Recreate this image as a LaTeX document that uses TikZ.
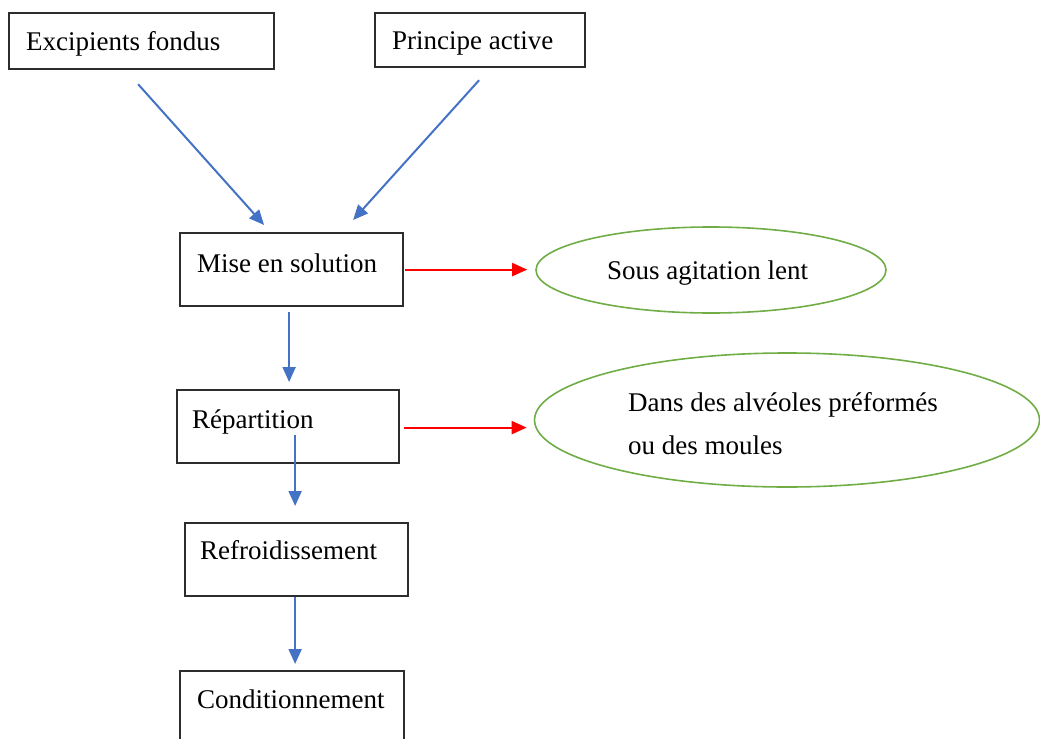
\documentclass[tikz,border=0pt]{standalone}
\usepackage{fontspec}
\setmainfont{Liberation Serif}
\usetikzlibrary{arrows.meta,calc,shapes.geometric}
\definecolor{flowblue}{RGB}{68,114,196}
\definecolor{flowred}{RGB}{255,0,0}
\definecolor{flowgreen}{RGB}{112,173,71}
\definecolor{boxline}{RGB}{45,45,45}
\tikzset{
  stepbox/.style={draw=boxline, line width=2.2pt, rectangle, inner sep=0pt, anchor=north west},
  label/.style={inner sep=0pt, anchor=base west, font=\fontsize{27}{43}\selectfont},
  note/.style={draw=flowgreen, line width=1.6pt, ellipse, inner sep=0pt},
  flow/.style={draw=flowblue, line width=2pt, -{Triangle[length=15pt,width=13pt]}},
  side/.style={draw=flowred, line width=2pt, -{Triangle[length=15pt,width=13pt]}},
}
\begin{document}
\begin{tikzpicture}[x=1pt,y=-1pt]
\useasboundingbox (0,0) rectangle (1040,738);
\begin{scope}
\clip (0,0) rectangle (1040,738);

% input boxes
\node[stepbox, minimum width=265pt, minimum height=56pt] (exc) at (8,12) {};
\node[label] (exct) at (26,51) {Excipients fondus};
\node[stepbox, minimum width=210pt, minimum height=54pt] (pa) at (374,12) {};
\node[label] (pat) at (392,50) {Principe active};

% process steps
\node[stepbox, minimum width=223pt, minimum height=73pt] (mise) at (179,232) {};
\node[label] (miset) at (197,272) {Mise en solution};
\node[stepbox, minimum width=222pt, minimum height=73pt] (rep) at (176,389) {};
\node[label] (rept) at (192,428) {Répartition};
\node[stepbox, minimum width=223pt, minimum height=73pt] (ref) at (184,522) {};
\node[label] (reft) at (200,559) {Refroidissement};
\node[stepbox, minimum width=224pt, minimum height=80pt] (cond) at (179,670) {};
\node[label] (condt) at (197,708) {Conditionnement};

% side notes
\node[note, minimum width=350pt, minimum height=86pt] (ell1) at (711,270) {};
\node[label] (ell1t) at (607,279) {Sous agitation lent};
\node[note, minimum width=505pt, minimum height=134pt] (ell2) at (787,420) {};
\node[label] (ell2t) at (628,411) {Dans des alvéoles préformés};
\node[label] (ell2u) at (628,454) {ou des moules};

% connectors
\draw[flow] ($(exc.south)+(-3.5,14)$) -- ($(mise.north)+(-27.5,-7)$);
\draw[flow] ($(pa.south)+(-1,12)$) -- ($(mise.north)+(61.5,-12)$);
\draw[flow] ($(mise.south)+(-2.5,5)$) -- ($(rep.north)+(1,-7)$);
\draw[flow] ($(rep.north)+(7,46)$) -- ($(ref.north)+(-1.5,-16)$);
\draw[flow] ($(ref.south)+(-1.5,0)$) -- ($(cond.north)+(3,-6)$);
\draw[side] ($(mise.east)+(1,0)$) -- ($(mise.east -| ell1.west)+(-8,0)$);
\draw[side] ($(rep.east)+(4,1)$) -- ($(rep.east -| ell2.west)+(-7,1)$);
\end{scope}
\end{tikzpicture}
\end{document}
